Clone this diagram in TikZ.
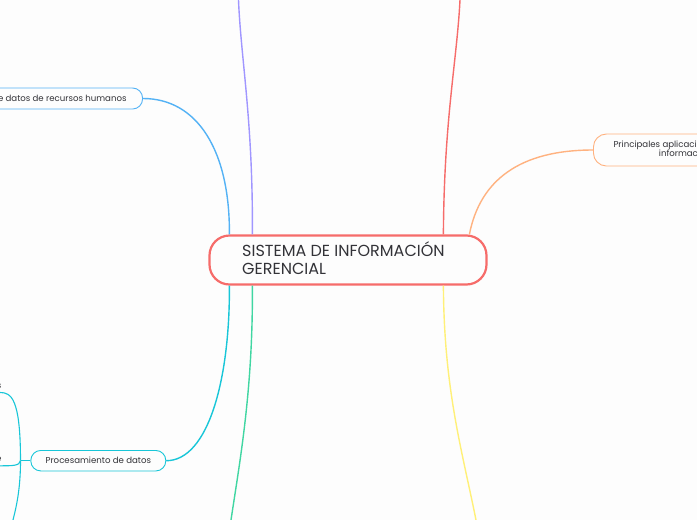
\documentclass[tikz,border=0pt]{standalone}
\usepackage{fontspec}
\setmainfont{Poppins}
\usetikzlibrary{calc}
\definecolor{bgc}{RGB}{253,253,253}
\definecolor{tcol}{RGB}{51,51,56}
\definecolor{cred}{RGB}{246,108,106}
\definecolor{cpurple}{RGB}{160,150,255}
\definecolor{cblue}{RGB}{84,178,245}
\definecolor{corange}{RGB}{255,178,128}
\definecolor{ccyan}{RGB}{24,198,216}
\definecolor{cgreen}{RGB}{64,214,162}
\definecolor{cyellow}{RGB}{255,240,120}
\tikzset{
  branch/.style={line width=1.4pt},
  twig/.style={line width=1.1pt},
  subbox/.style={draw, line width=0.9pt, rounded corners=10pt, text=tcol, font=\fontsize{8.6}{10.5}\selectfont},
  small/.style={text=tcol, font=\fontsize{8.6}{10.5}\selectfont, inner sep=0pt},
  bigtext/.style={text=tcol, font=\fontsize{16}{19}\selectfont, inner sep=0pt, anchor=base west}
}
\begin{document}
\begin{tikzpicture}[x=1pt,y=-1pt]
\useasboundingbox (0,0) rectangle (697,520);
\clip (0,0) rectangle (697,520);
\fill[bgc] (0,0) rectangle (697,520);

% central node
\node[draw=cred, line width=2.2pt, rounded corners=20pt, minimum width=277pt, minimum height=49pt, inner sep=0pt] (c) at (348,260) {};
\node[bigtext] (ct1) at (242,256) {SISTEMA DE INFORMACIÓN};
\node[bigtext] (ct2) at (242,274.5) {GERENCIAL};

% attachment points on the central node
\coordinate (cTp) at ($(c.north west)+(44,0)$);
\coordinate (cTb) at ($(c.north west)+(21,0)$);
\coordinate (cTr) at ($(c.north west)+(235,0)$);
\coordinate (cTo) at ($(c.north west)+(261,0)$);
\coordinate (cBc) at ($(c.south west)+(21,0)$);
\coordinate (cBg) at ($(c.south west)+(44,0)$);
\coordinate (cBy) at ($(c.south west)+(235,0)$);

% free ends at the page border
\coordinate (ePurple) at (238.5,0);
\coordinate (eRed) at (460,0);
\coordinate (eGreen) at (231,520);
\coordinate (eYellow) at (476,520);

% sub nodes
\node[subbox, draw=cblue, anchor=east, inner xsep=16pt, minimum height=21pt] (rh) at (143,98.5) {e datos de recursos humanos};
\node[draw=corange, line width=0.9pt, rounded corners=13pt, minimum width=140pt, minimum height=32pt, anchor=west, inner sep=0pt] (pa) at (593,150) {};
\node[small, anchor=base west] (pa1) at (613.3,147) {Principales aplicaci};
\node[small, anchor=base west] (pa2) at (658.7,156.7) {informac};
\node[subbox, draw=ccyan, minimum width=135pt, minimum height=20.5pt, inner sep=0pt] (pd) at (98.3,460.7) {Procesamiento de datos};

% branches
\draw[branch, cpurple] (cTp) .. controls (253,120) and (241,60) .. (ePurple);
\draw[branch, cred] (cTr) .. controls (444,120) and (457,60) .. (eRed);
\draw[branch, cblue] (cTb) .. controls (230,150) and (197,98.5) .. (rh.east);
\draw[branch, corange] (cTo) .. controls (480,180) and (520,150) .. (pa.west);
\draw[branch, ccyan] (cBc) .. controls (230,380) and (208,460.7) .. (pd.east);
\draw[branch, cgreen] (cBg) .. controls (253,390) and (240,460) .. (eGreen);
\draw[branch, cyellow] (cBy) .. controls (444,390) and (462,450) .. (eYellow);

% children of Procesamiento de datos
\coordinate (hub) at (20.5,460.7);
\coordinate (k1) at (0,392.5);
\coordinate (k2) at (0,465.8);
\coordinate (k3) at (13,520);
\node[small, anchor=base east] (k1t) at (1.6,388) {s};
\node[small, anchor=base east] (k2t) at (1.6,461) {e};
\draw[twig, ccyan] (pd.west) -- (hub);
\draw[twig, ccyan] (hub) .. controls (20.5,398) and (11,392.5) .. (k1);
\draw[twig, ccyan] (hub) .. controls (19.5,465.8) and (13,465.8) .. (k2);
\draw[twig, ccyan] (hub) .. controls (20.5,490) and (16,508) .. (k3);
\end{tikzpicture}
\end{document}
